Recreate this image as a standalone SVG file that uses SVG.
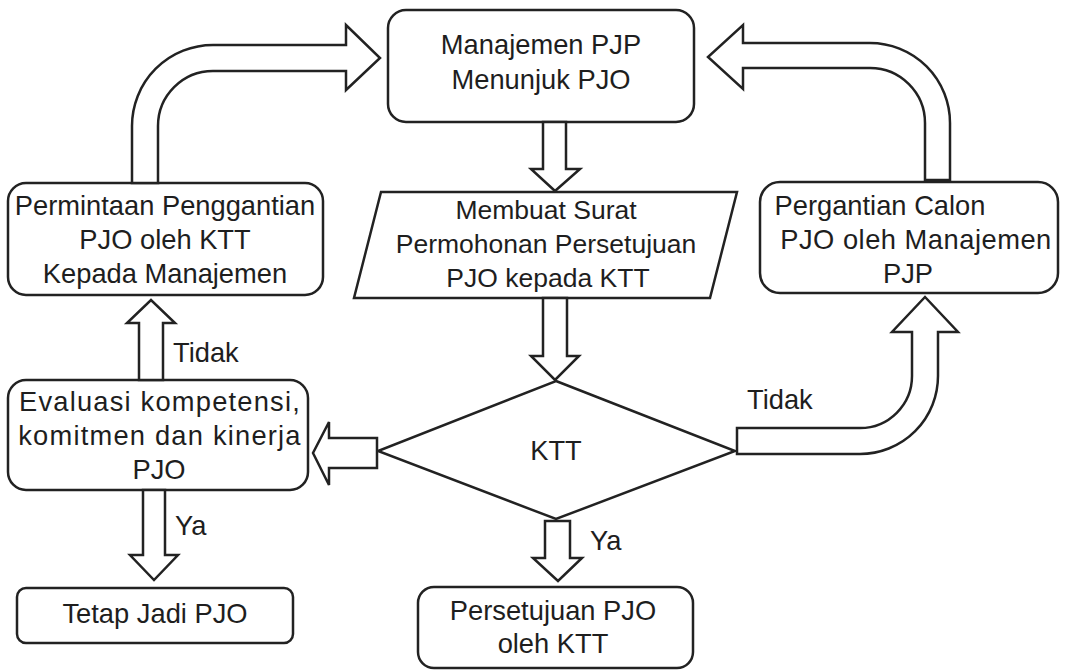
<svg xmlns="http://www.w3.org/2000/svg" width="1066" height="671" viewBox="0 0 1066 671">
<style>
.box{fill:#fff;stroke:#222;stroke-width:2.5}
.arr{fill:#fff;stroke:#222;stroke-width:2.5;stroke-linejoin:miter}
text{font-family:"Liberation Sans",Arial,sans-serif;font-size:27.3px;fill:#1e1e1e;text-anchor:middle}
.lbl{text-anchor:start}
.sm{font-size:26.5px}
.wide{letter-spacing:1.2px}
</style>
<rect width="1066" height="671" fill="#fff"/>
<g id="manajemen">
<rect class="box" x="388" y="10" width="306" height="112" rx="18"/>
<text x="541" y="54">Manajemen PJP</text>
<text x="541" y="89">Menunjuk PJO</text>
</g>
<g id="membuat-surat">
<polygon class="box" points="381,192 737,192 710,298 354,298"/>
<text class="sm" x="546" y="219">Membuat Surat</text>
<text class="sm" x="546" y="253">Permohonan Persetujuan</text>
<text class="sm" x="548" y="287">PJO kepada KTT</text>
</g>
<g id="permintaan">
<rect class="box" x="8" y="183" width="315" height="112" rx="18"/>
<text x="165" y="215">Permintaan Penggantian</text>
<text x="165" y="249">PJO oleh KTT</text>
<text x="165" y="283">Kepada Manajemen</text>
</g>
<g id="pergantian">
<rect class="box" x="760" y="182" width="298" height="111" rx="20"/>
<text x="880" y="215">Pergantian Calon</text>
<text x="916" y="249" letter-spacing="0.5">PJO oleh Manajemen</text>
<text x="908" y="283">PJP</text>
</g>
<g id="ktt">
<polygon class="box" points="556,381 735,451 556,519 378,451"/>
<text x="556" y="460">KTT</text>
</g>
<g id="evaluasi">
<rect class="box" x="8" y="380" width="300" height="110" rx="18"/>
<text class="wide" x="160" y="411">Evaluasi kompetensi,</text>
<text class="wide" x="160" y="445">komitmen dan kinerja</text>
<text x="159" y="479">PJO</text>
</g>
<g id="tetap">
<rect class="box" x="17" y="588" width="276" height="55" rx="9"/>
<text x="155" y="623">Tetap Jadi PJO</text>
</g>
<g id="persetujuan">
<rect class="box" x="418" y="587" width="275" height="81" rx="16"/>
<text x="553" y="620">Persetujuan PJO</text>
<text x="553" y="653">oleh KTT</text>
</g>
<g id="connectors">
<path class="arr" d="M132,183 V126 A81,81 0 0 1 213,45 H346 V25 L380,58 L346,90 V71 H213 A55,55 0 0 0 158,126 V183 Z"/>
<path class="arr" d="M950,180 V123 A80,80 0 0 0 870,43 H743 V25 L708,57 L743,89 V68 H870 A55,55 0 0 1 925,123 V180 Z"/>
<path class="arr" d="M737,428 H860 A52,52 0 0 0 912,376 V332 H892 L925,297 L958,332 H938 V376 A78,78 0 0 1 860,454 H737 Z"/>
<path class="arr" d="M377,438 H329 V422 L313,453 L329,485 V468 H377 Z"/>
<path class="arr" d="M543,122 V169 H531 L555,191 L580,169 H566 V122 Z"/>
<path class="arr" d="M543,298 V356 H531 L555,380 L579,356 H567 V298 Z"/>
<path class="arr" d="M545,521 V558 H533 L558,581 L582,558 H570 V521 Z"/>
<path class="arr" d="M139,380 V323 H127 L151,300 L175,323 H163 V380 Z"/>
<path class="arr" d="M143,490 V555 H130 L154,580 L178,555 H165 V490 Z"/>
<text class="lbl" x="173" y="362">Tidak</text>
<text class="lbl" x="747" y="409">Tidak</text>
<text class="lbl" x="175" y="535">Ya</text>
<text class="lbl" x="590" y="550">Ya</text>
</g>
</svg>
